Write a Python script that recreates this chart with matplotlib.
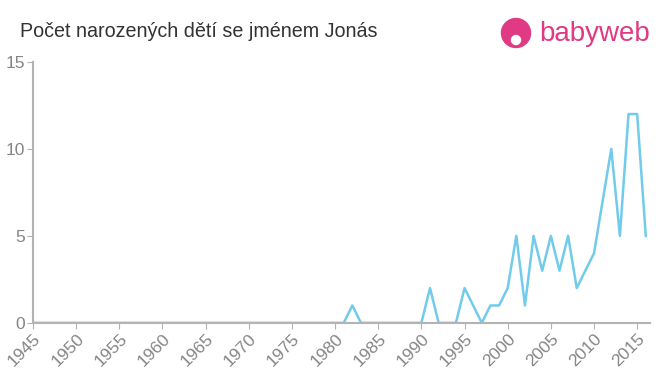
import matplotlib
matplotlib.use("Agg")
import matplotlib.pyplot as plt
from matplotlib.patches import Ellipse

plt.rcParams['font.family'] = ['Liberation Sans', 'DejaVu Sans']

years = list(range(1945, 2017))
counts = [0] * 37 + [1, 0, 0, 0, 0, 0, 0, 0, 0, 2, 0, 0, 0, 2, 1, 0, 1, 1, 2, 5, 1,
                     5, 3, 5, 3, 5, 2, 3, 4, 7, 10, 5, 12, 12, 5]
xticks = list(range(1945, 2020, 5))
yticks = [0, 5, 10, 15]

title = "Počet narozených dětí se jménem Jonás"
line_color = "#71cbea"
axis_color = "#b3b3b3"
label_color = "#858585"
pink = "#df3a83"

fig = plt.figure(figsize=(6.6, 3.75), dpi=100)
ax = fig.add_axes([0.05, 0.139, 0.935, 0.696])
ax.plot(years, counts, color=line_color, linewidth=1.8)

ax.set_xlim(1945, 2016.5)
ax.set_ylim(0, 15)
ax.set_xticks(xticks)
ax.set_yticks(yticks)
ax.tick_params(axis='x', labelrotation=45, labelsize=12.5, colors=label_color,
               length=4, color=axis_color, pad=2)
ax.tick_params(axis='y', labelsize=12.5, colors=label_color, length=4, color=axis_color, pad=2)
for lab in ax.get_xticklabels():
    lab.set_ha('right')
    lab.set_rotation_mode('anchor')
for s in ['top', 'right']:
    ax.spines[s].set_visible(False)
for s in ['left', 'bottom']:
    ax.spines[s].set_color(axis_color)
    ax.spines[s].set_linewidth(1.5)

fig.text(0.03, 0.915, title, fontsize=14.2, color="#333333", va='center')

# logo: round icon + wordmark
fig.patches.append(Ellipse((516 / 660, 1 - 33 / 375), 29 / 660, 29 / 375,
                           transform=fig.transFigure, color=pink, zorder=5))
fig.patches.append(Ellipse((516 / 660, 1 - 40 / 375), 9 / 660, 9 / 375,
                           transform=fig.transFigure, color="white", zorder=6))
fig.text(539 / 660, 1 - 34 / 375, "babyweb", fontsize=20, color=pink, va='center')

fig.savefig("out.png", dpi=100)
